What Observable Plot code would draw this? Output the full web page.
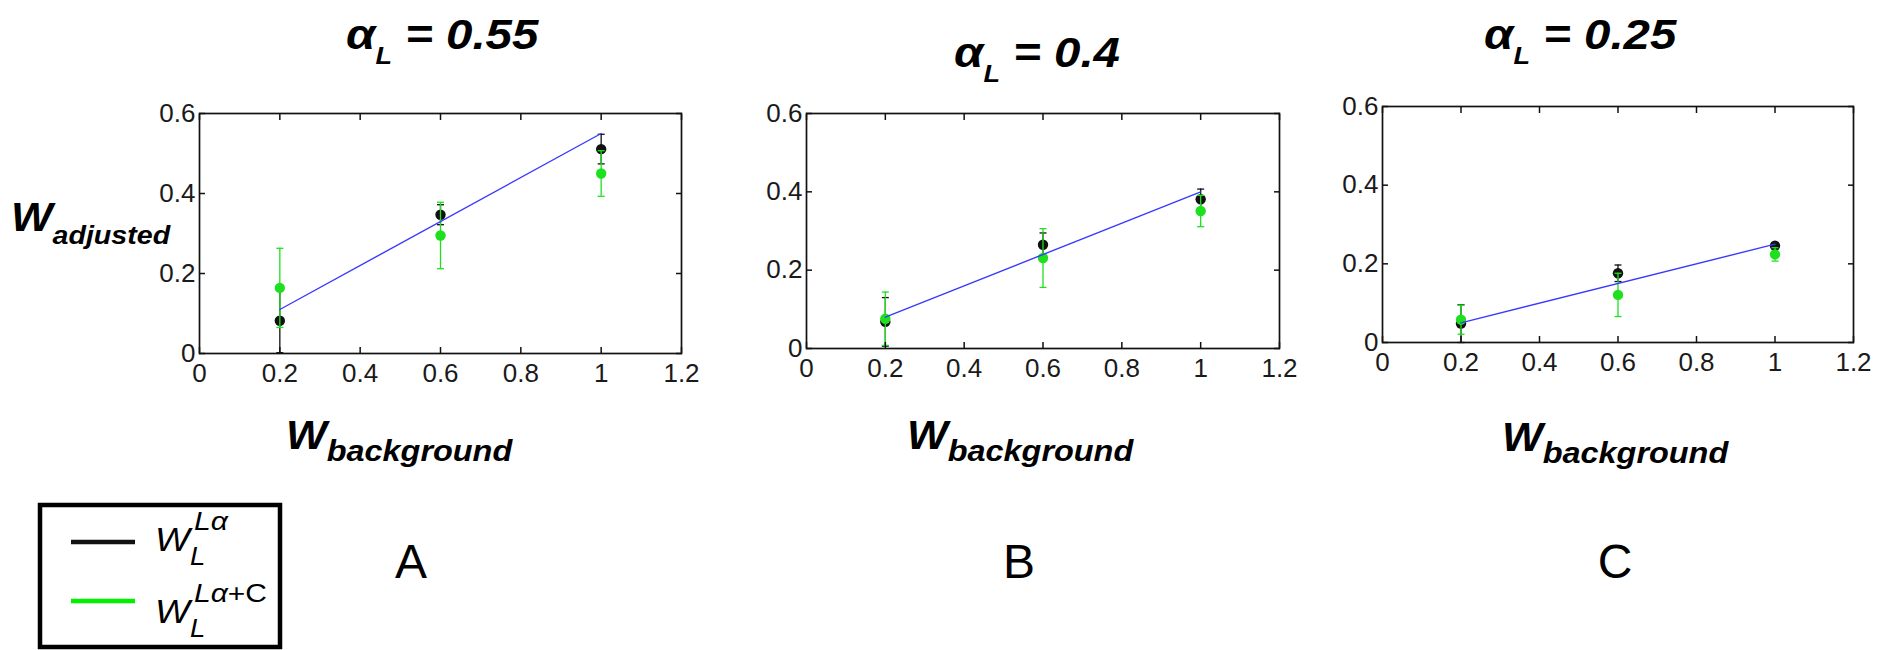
<!DOCTYPE html>
<html><head><meta charset="utf-8">
<script src="https://cdn.jsdelivr.net/npm/d3@7"></script>
<script src="https://cdn.jsdelivr.net/npm/@observablehq/plot@0.6"></script>
<style>
html,body{margin:0;padding:0;background:#fff;}
#root{position:relative;width:1895px;height:650px;overflow:hidden;font-family:"Liberation Sans",Arial,sans-serif;}
.panel{position:absolute;}
#overlay{position:absolute;left:0;top:0;overflow:visible;}
</style></head><body><div id="root"></div>
<script>
// ---------- data ----------
const xVals = [0.2, 0.6, 1.0];
const alphaLabels = ["0.55", "0.4", "0.25"];
const panelLetters = ["A", "B", "C"];

const blackA = [0.082, 0.347, 0.511];
const blackErrA = [0.080, 0.025, 0.037];
const greenA = [0.164, 0.295, 0.450];
const greenErrA = [0.099, 0.083, 0.057];
const fitA = [0.11, 0.55];

const blackB = [0.068, 0.265, 0.381];
const blackErrB = [0.062, 0.030, 0.026];
const greenB = [0.076, 0.231, 0.351];
const greenErrB = [0.068, 0.075, 0.040];
const fitB = [0.08, 0.40];

const blackC = [0.048, 0.176, 0.246];
const blackErrC = [0.048, 0.021, 0.006];
const greenC = [0.058, 0.121, 0.224];
const greenErrC = [0.037, 0.055, 0.017];
const fitC = [0.05, 0.25];

const fitX = [0.2, 1.0];

const xTicks = [0, 0.2, 0.4, 0.6, 0.8, 1, 1.2];
const xTickLabels = ["0", "0.2", "0.4", "0.6", "0.8", "1", "1.2"];
const yTicks = [0, 0.2, 0.4, 0.6];
const yTickLabels = ["0", "0.2", "0.4", "0.6"];

const legendSup = ["L\u03B1", "L\u03B1+C"];
const seriesNames = ["black", "green"];

// ---------- style / layout ----------
const FONT = '"Liberation Sans", Arial, sans-serif';
const COL_BLACK = "#111111";
const COL_GREEN = "#1fe01f";
const COL_LEG_GREEN = "#00f000";
const COL_BLUE = "#3a3aff";

const frames = [[199, 113, 681, 353], [806, 113, 1279, 348], [1382, 106, 1853, 342]];
const titlePos = [[346, 49], [954, 67], [1484, 49]];
const xLabelPos = [[286, 449], [907, 449], [1502, 451]];
const letterPos = [[411, 578], [1019, 578], [1615, 578]];

const capSymbol = {draw(ctx, size) { const w = Math.sqrt(size / Math.PI); ctx.moveTo(-w, 0); ctx.lineTo(w, 0); }};

const root = document.getElementById("root");

function rowsOf(vals, errs) {
  return xVals.map((x, j) => ({x, y: vals[j], lo: vals[j] - errs[j], hi: vals[j] + errs[j]}));
}

function panel(i, black, bErr, green, gErr, fit) {
  const [L, T, R, B] = frames[i];
  const mL = 80, mT = 20, mR = 40, mB = 50;
  const rb = rowsOf(black, bErr);
  const rg = rowsOf(green, gErr);
  const fr = fitX.map((x, j) => ({x, y: fit[j]}));
  const fmtX = d => xTickLabels[xTicks.indexOf(d)];
  const fmtY = d => yTickLabels[yTicks.indexOf(d)];
  const errMarks = (rows, color) => [
    Plot.ruleX(rows, {x: "x", y1: "lo", y2: "hi", stroke: color, strokeWidth: 1.3}),
    Plot.dot(rows, {x: "x", y: "lo", symbol: capSymbol, r: 3.5, fill: "none", stroke: color, strokeWidth: 1.3}),
    Plot.dot(rows, {x: "x", y: "hi", symbol: capSymbol, r: 3.5, fill: "none", stroke: color, strokeWidth: 1.3})
  ];
  const p = Plot.plot({
    width: mL + (R - L) + mR,
    height: mT + (B - T) + mB,
    marginLeft: mL, marginTop: mT, marginRight: mR, marginBottom: mB,
    x: {domain: [0, 1.2]},
    y: {domain: [0, 0.6]},
    style: {fontFamily: FONT, fontSize: "26px", color: "#1a1a1a", background: "transparent", overflow: "visible", maxWidth: "none"},
    marks: [
      ...errMarks(rb, COL_BLACK),
      Plot.dot(rb, {x: "x", y: "y", r: 5.2, fill: COL_BLACK}),
      ...errMarks(rg, COL_GREEN),
      Plot.dot(rg, {x: "x", y: "y", r: 5.2, fill: COL_GREEN}),
      Plot.line(fr, {x: "x", y: "y", stroke: COL_BLUE, strokeWidth: 1.4}),
      Plot.axisX({anchor: "bottom", ticks: xTicks, tickFormat: fmtX, tickSize: -6, tickPadding: 16, label: null, stroke: COL_BLACK, strokeWidth: 1.5}),
      Plot.axisX({anchor: "top", ticks: xTicks, tickFormat: () => "", tickSize: -6, label: null, stroke: COL_BLACK, strokeWidth: 1.5}),
      Plot.axisY({anchor: "left", ticks: yTicks, tickFormat: fmtY, tickSize: -6, tickPadding: 10, label: null, stroke: COL_BLACK, strokeWidth: 1.5}),
      Plot.axisY({anchor: "right", ticks: yTicks, tickFormat: () => "", tickSize: -6, label: null, stroke: COL_BLACK, strokeWidth: 1.5}),
      Plot.frame({stroke: COL_BLACK, strokeWidth: 1.7})
    ]
  });
  const div = document.createElement("div");
  div.className = "panel";
  div.style.left = (L - mL) + "px";
  div.style.top = (T - mT) + "px";
  div.appendChild(p);
  root.appendChild(div);
}

panel(0, blackA, blackErrA, greenA, greenErrA, fitA);
panel(1, blackB, blackErrB, greenB, greenErrB, fitB);
panel(2, blackC, blackErrC, greenC, greenErrC, fitC);

// ---------- text overlay ----------
const svg = d3.select("#root").append("svg").attr("id", "overlay")
  .attr("width", 1895).attr("height", 650)
  .style("font-family", FONT);

// titles
alphaLabels.forEach((a, i) => {
  const [x, y] = titlePos[i];
  const t = svg.append("g").attr("transform", `translate(${x},${y}) scale(1.13,1)`)
    .append("text").attr("font-weight", "bold").attr("font-style", "italic").attr("fill", "#000");
  t.append("tspan").attr("font-size", 42).text("\u03B1");
  t.append("tspan").attr("font-size", 24).attr("dy", 15).text("L");
  t.append("tspan").attr("font-size", 42).attr("dy", -15).text(" = " + a);
});

// y label
{
  const t = svg.append("g").attr("transform", "translate(11,231) scale(1.1,1)")
    .append("text").attr("font-weight", "bold").attr("font-style", "italic").attr("fill", "#000");
  t.append("tspan").attr("font-size", 40).text("W");
  t.append("tspan").attr("font-size", 26).attr("dy", 13).text("adjusted");
}

// x labels
xLabelPos.forEach(([x, y]) => {
  const t = svg.append("g").attr("transform", `translate(${x},${y}) scale(1.08,1)`)
    .append("text").attr("font-weight", "bold").attr("font-style", "italic").attr("fill", "#000");
  t.append("tspan").attr("font-size", 40).text("W");
  t.append("tspan").attr("font-size", 30).attr("dy", 12).text("background");
});

// panel letters
panelLetters.forEach((s, i) => {
  svg.append("text").attr("x", letterPos[i][0]).attr("y", letterPos[i][1])
    .attr("text-anchor", "middle").attr("font-size", 48).attr("fill", "#000").text(s);
});

// legend
svg.append("rect").attr("x", 40).attr("y", 505).attr("width", 240).attr("height", 142)
  .attr("fill", "#fff").attr("stroke", "#000").attr("stroke-width", 4.5);
const legColors = [COL_BLACK, COL_LEG_GREEN];
const legY = [542, 601];
seriesNames.forEach((n, i) => {
  svg.append("line").attr("x1", 71).attr("x2", 135).attr("y1", legY[i]).attr("y2", legY[i])
    .attr("stroke", legColors[i]).attr("stroke-width", 4.5);
  const by = legY[i] + 9 + (i === 1 ? 13 : 0);
  svg.append("g").attr("transform", `translate(155,${by}) scale(1.12,1)`)
    .append("text").attr("font-size", 33).attr("font-style", "italic").attr("fill", "#000").text("W");
  const sup = svg.append("g").attr("transform", `translate(194,${by - 21}) scale(1.2,1)`)
    .append("text").attr("font-size", 25).attr("fill", "#000");
  const s = legendSup[i];
  sup.append("tspan").attr("font-style", "italic").text(s.slice(0, 2));
  if (s.length > 2) sup.append("tspan").text(s.slice(2));
  svg.append("g").attr("transform", `translate(190,${by + 14}) scale(1.1,1)`)
    .append("text").attr("font-size", 25).attr("font-style", "italic").attr("fill", "#000").text("L");
});
</script>
</body></html>
